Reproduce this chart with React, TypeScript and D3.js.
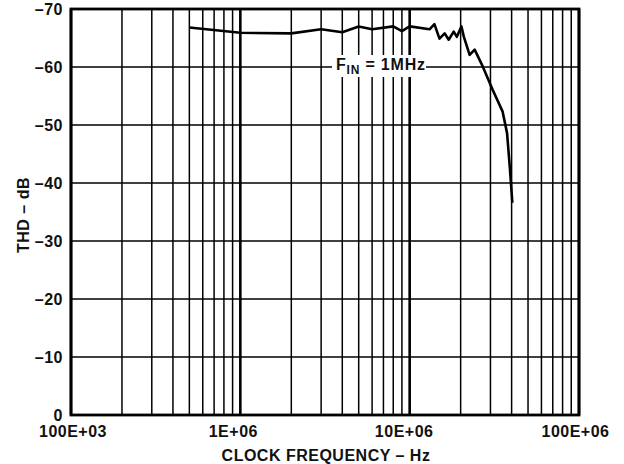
import React from "react";
import * as d3 from "d3";

const freqHz = [
  5.0e5, 1.0e6, 2.0e6, 3.0e6, 4.0e6, 5.0e6, 6.0e6, 8.0e6, 9.0e6, 10.0e6,
  13.1e6, 14.0e6, 15.0e6, 16.1e6, 17.0e6, 18.2e6, 19.0e6, 20.2e6, 20.9e6,
  22.6e6, 24.2e6, 27.0e6, 31.0e6, 35.4e6, 37.6e6, 39.0e6, 40.4e6,
];
const thdDb = [
  -66.8, -65.9, -65.8, -66.5, -66.0, -67.0, -66.5, -67.0, -66.2, -67.0,
  -66.5, -67.4, -64.9, -65.8, -64.7, -66.1, -65.2, -67.0, -65.2,
  -62.1, -63.0, -60.1, -56.0, -52.3, -48.6, -42.8, -36.6,
];
const yTicks = [-70, -60, -50, -40, -30, -20, -10, 0];
const xDecades = [1e5, 1e6, 1e7, 1e8];
const xTickLabels = ["100E+03", "1E+06", "10E+06", "100E+06"];
const annotation = { main: "F", sub: "IN", rest: " = 1MHz" };

const W = 624;
const H = 464;
const M = { left: 71, right: 579, top: 9, bottom: 415 };
const FONT = "'Liberation Sans', Arial, sans-serif";
const X_LABEL_NUDGE = [2, -7, -5.5, -3.5];

export default function App() {
  const x = d3.scaleLog().domain([1e5, 1e8]).range([M.left, M.right]);
  const y = d3.scaleLinear().domain([0, -70]).range([M.bottom, M.top]);

  const minor: number[] = [];
  for (let d = 0; d < 3; d++) {
    const base = xDecades[d];
    for (let k = 2; k <= 9; k++) minor.push(base * k);
  }

  const line = d3
    .line<number>()
    .x((_, i) => x(freqHz[i]))
    .y((v) => y(v))
    .curve(d3.curveLinear);

  const yMinus = (v: number) => (v < 0 ? "\u2013" + Math.abs(v) : String(v));
  const textProps = {
    fontFamily: FONT,
    fontWeight: "bold" as const,
    fontSize: 16,
    fill: "#111",
    letterSpacing: 0.5,
  };

  return (
    <svg
      width={W}
      height={H}
      style={{ position: "absolute", left: 0, top: 0, background: "#fff" }}
    >
      <rect x={0} y={0} width={W} height={H} fill="#fff" />
      {minor.map((f, i) => (
        <line key={"m" + i} x1={x(f)} x2={x(f)} y1={M.top} y2={M.bottom} stroke="#000" strokeWidth={1.5} />
      ))}
      {xDecades.map((f, i) => (
        <line key={"d" + i} x1={x(f)} x2={x(f)} y1={M.top} y2={M.bottom} stroke="#000" strokeWidth={2.6} />
      ))}
      {yTicks.map((v) => (
        <line key={"h" + v} x1={M.left} x2={M.right} y1={y(v)} y2={y(v)} stroke="#000" strokeWidth={1.6} />
      ))}
      <rect x={332} y={55} width={94} height={22} fill="#fff" />
      <text x={336} y={70} {...textProps} letterSpacing={0.8}>
        {annotation.main}
        <tspan fontSize={12} dy={4}>{annotation.sub}</tspan>
        <tspan dy={-4}>{annotation.rest}</tspan>
      </text>
      <rect
        x={M.left}
        y={M.top}
        width={M.right - M.left}
        height={M.bottom - M.top}
        fill="none"
        stroke="#000"
        strokeWidth={2.8}
      />
      <path d={line(thdDb) || ""} fill="none" stroke="#000" strokeWidth={2.6} strokeLinejoin="round" />
      {yTicks.map((v) => (
        <text key={"yl" + v} x={63} y={y(v)} dy="0.36em" textAnchor="end" {...textProps}>
          {yMinus(v)}
        </text>
      ))}
      {xDecades.map((f, i) => (
        <text key={"xl" + i} x={x(f) + X_LABEL_NUDGE[i]} y={437} textAnchor="middle" {...textProps}>
          {xTickLabels[i]}
        </text>
      ))}
      <text x={326} y={461} textAnchor="middle" {...textProps}>
        CLOCK FREQUENCY – Hz
      </text>
      <text transform="translate(28.5,215) rotate(-90)" textAnchor="middle" {...textProps}>
        THD – dB
      </text>
    </svg>
  );
}
